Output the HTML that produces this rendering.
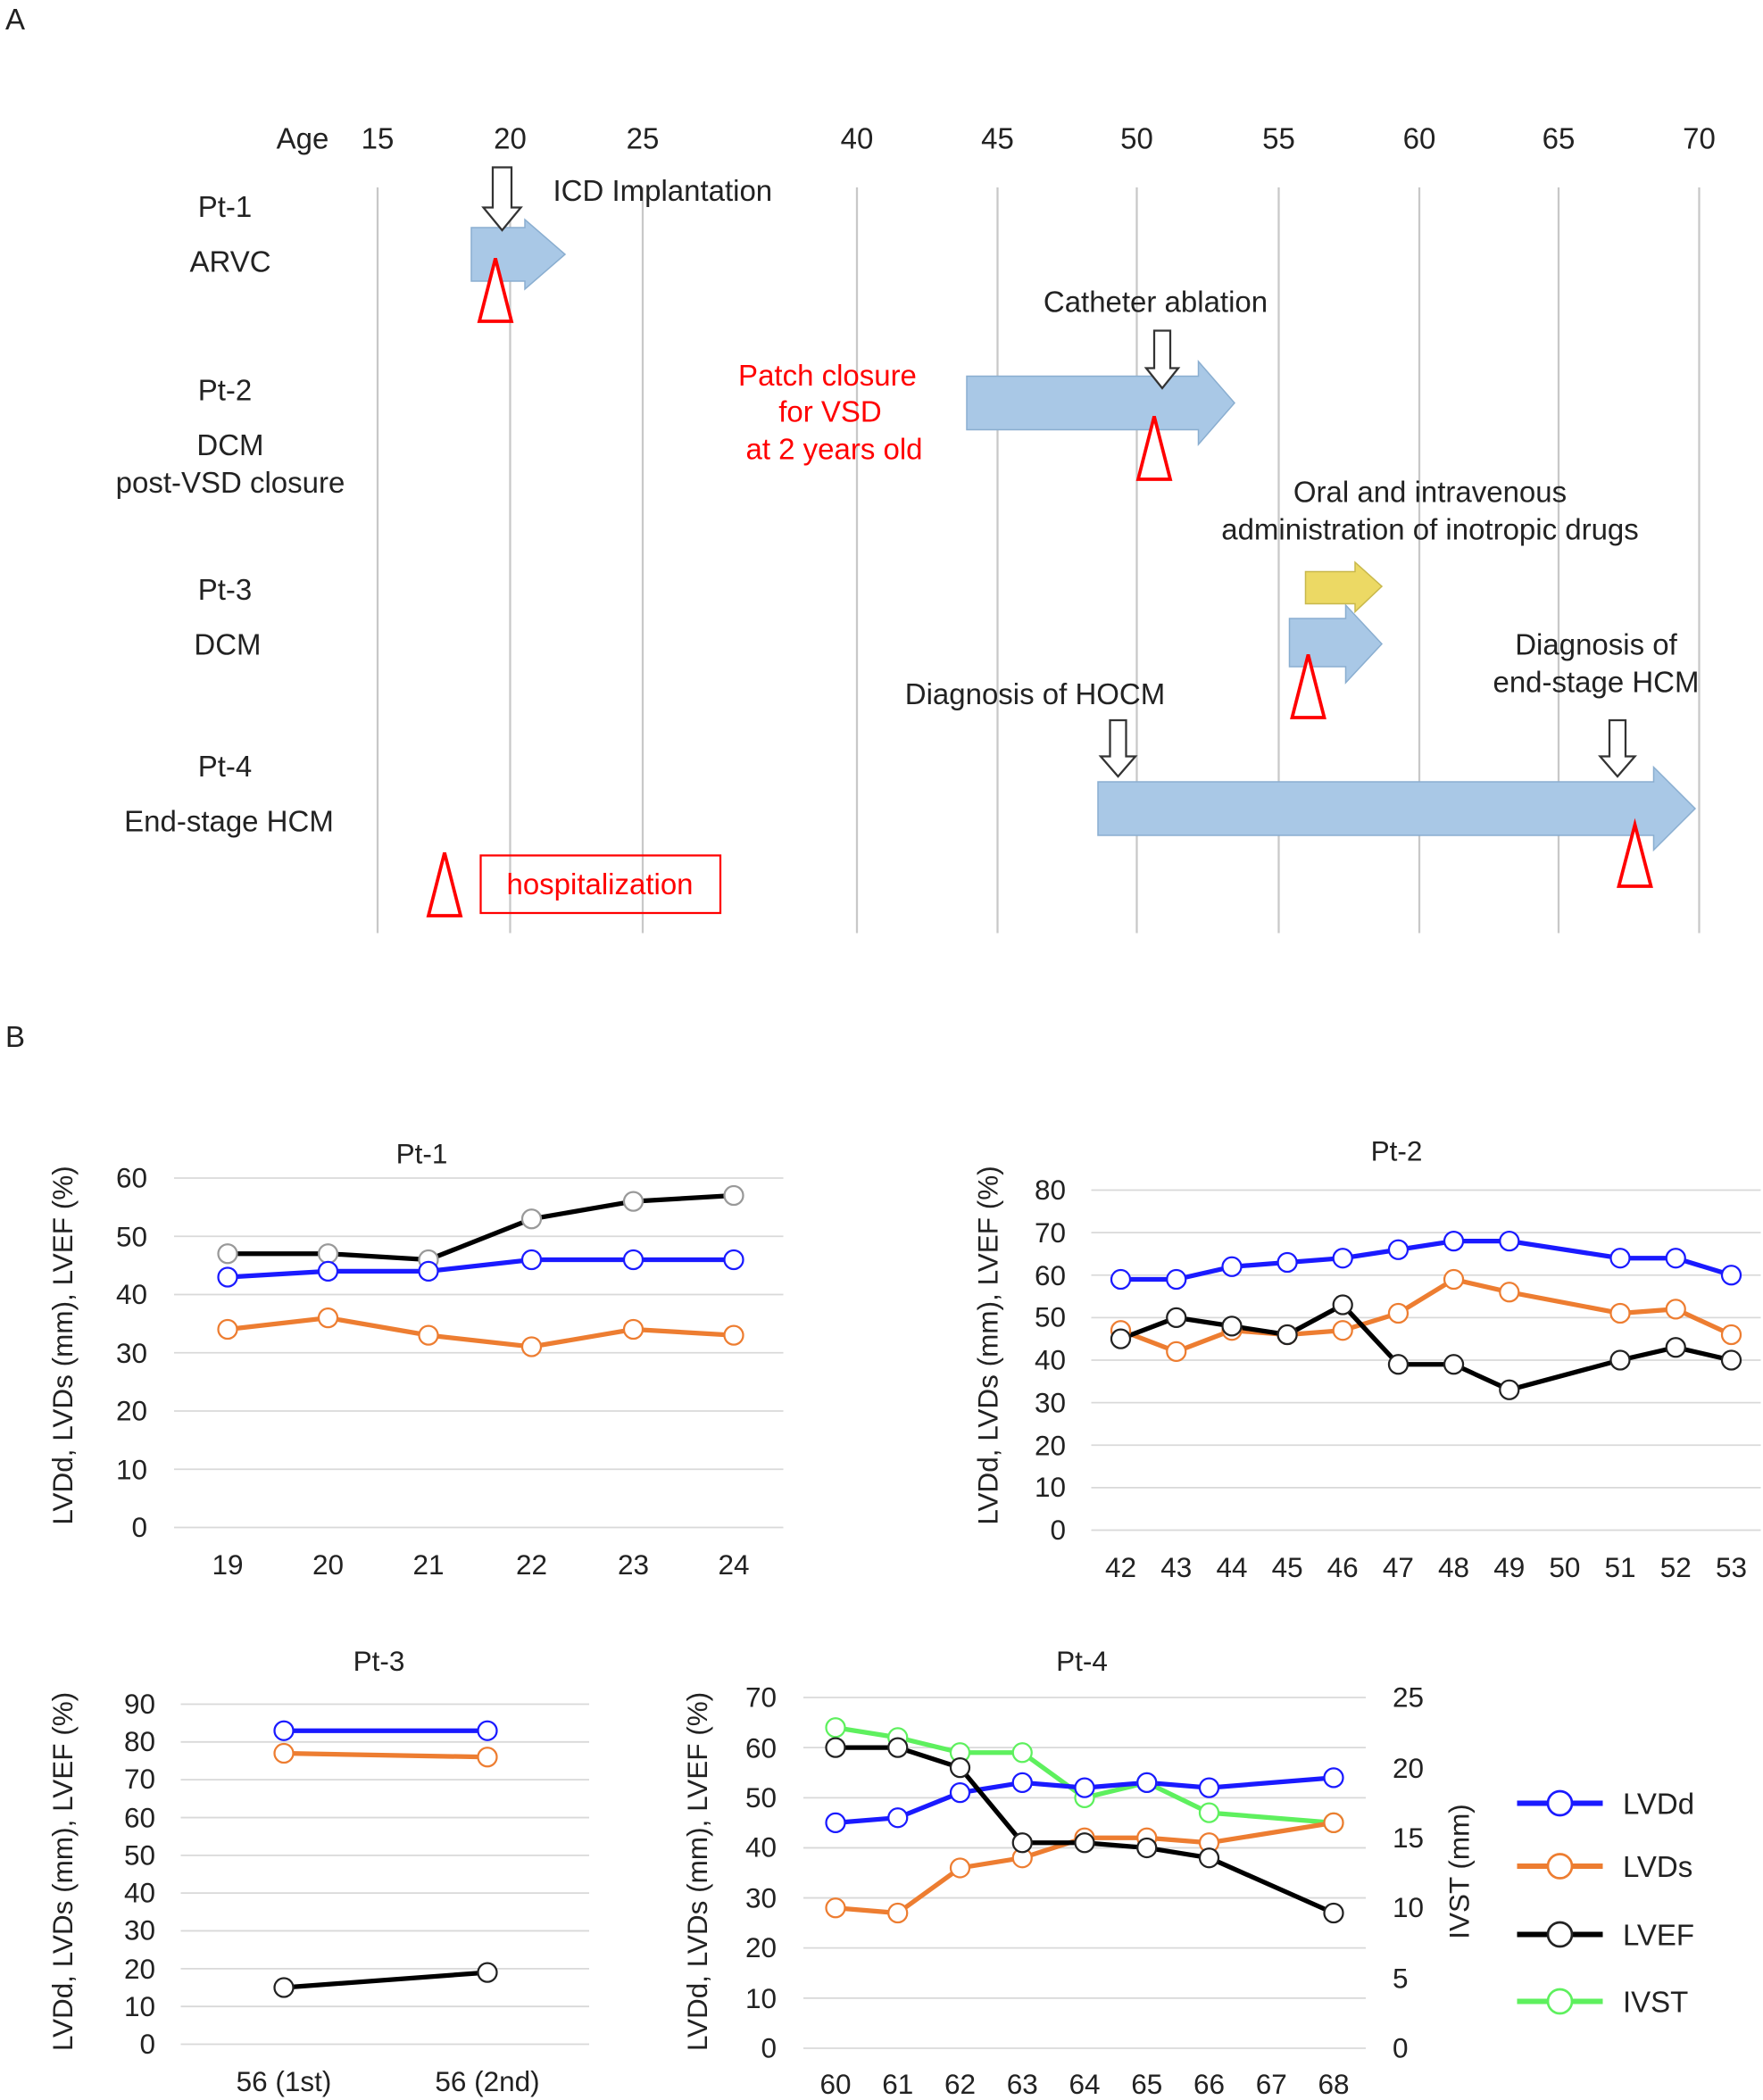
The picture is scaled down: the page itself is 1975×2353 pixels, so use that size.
<!DOCTYPE html>
<html><head><meta charset="utf-8"><style>
html,body{margin:0;padding:0;background:#fff;}
svg{display:block}
text{font-family:"Liberation Sans",Arial,sans-serif;fill:#222;}
</style></head><body>
<svg width="1975" height="2353" viewBox="0 0 1316.67 1568.67" preserveAspectRatio="none" xmlns="http://www.w3.org/2000/svg">
<rect width="1316.67" height="1568.67" fill="#fff"/>
<!-- Panel A -->
<text x="4" y="22" font-size="22">A</text>
<text x="4" y="782" font-size="22">B</text>
<g stroke="#c8c8c8" stroke-width="1.5">
<line x1="282" y1="140" x2="282" y2="697"/><line x1="381" y1="140" x2="381" y2="697"/><line x1="480" y1="140" x2="480" y2="697"/><line x1="640" y1="140" x2="640" y2="697"/><line x1="745" y1="140" x2="745" y2="697"/><line x1="849" y1="140" x2="849" y2="697"/><line x1="955" y1="140" x2="955" y2="697"/><line x1="1060" y1="140" x2="1060" y2="697"/><line x1="1164" y1="140" x2="1164" y2="697"/><line x1="1269" y1="140" x2="1269" y2="697"/>
</g>
<g font-size="22" text-anchor="middle">
<text x="226" y="111">Age</text><text x="282" y="111">15</text><text x="381" y="111">20</text><text x="480" y="111">25</text><text x="640" y="111">40</text><text x="745" y="111">45</text><text x="849" y="111">50</text><text x="955" y="111">55</text><text x="1060" y="111">60</text><text x="1164" y="111">65</text><text x="1269" y="111">70</text>
<text x="168" y="162">Pt-1</text><text x="172" y="203">ARVC</text>
<text x="168" y="299">Pt-2</text><text x="172" y="340">DCM</text><text x="172" y="368">post-VSD closure</text>
<text x="168" y="448">Pt-3</text><text x="170" y="489">DCM</text>
<text x="168" y="580">Pt-4</text><text x="171" y="621">End-stage HCM</text>
<text x="863" y="233">Catheter ablation</text>
<text x="1068" y="375">Oral and intravenous</text><text x="1068" y="403">administration of inotropic drugs</text>
<text x="773" y="526">Diagnosis of HOCM</text>
<text x="1192" y="489">Diagnosis of</text><text x="1192" y="517">end-stage HCM</text>
<g fill="#ff0000" style="fill:#ff0000"><text x="618" y="288" style="fill:#f00">Patch closure</text><text x="620" y="315" style="fill:#f00">for VSD</text><text x="623" y="343" style="fill:#f00">at 2 years old</text></g>
<text x="448" y="668" style="fill:#f00">hospitalization</text>
</g>
<text x="413" y="150" font-size="22">ICD Implantation</text>
<!-- blue arrows -->
<g fill="#a9c8e6" stroke="#8aaed0" stroke-width="1">
<polygon points="352,170 392,170 392,164 422,190 392,216 392,210 352,210"/>
<polygon points="722,281 895,281 895,270 922,301 895,332 895,321 722,321"/>
<polygon points="963,462 1005,462 1005,452 1032,481 1005,510 1005,498 963,498"/>
<polygon points="820,584 1235,584 1235,573 1266,604 1235,635 1235,624 820,624"/>
</g>
<polygon points="975,427 1012,427 1012,420 1032,438 1012,457 1012,451 975,451" fill="#ecd964" stroke="#c8b84c" stroke-width="1"/>
<!-- down arrows -->
<g fill="#fff" stroke="#333" stroke-width="1.5">
<polygon points="368,125 382,125 382,155 389,155 375,172 361,155 368,155"/>
<polygon points="862,247 874,247 874,275 880,275 868,290 856,275 862,275"/>
<polygon points="829,538 841,538 841,565 848,565 835,580 822,565 829,565"/>
<polygon points="1202,538 1214,538 1214,565 1221,565 1208,580 1195,565 1202,565"/>
</g>
<!-- red triangles -->
<g fill="#fff" stroke="#f00" stroke-width="2.5">
<polygon points="370,193 382,240 358,240"/>
<polygon points="862,311 874,358 850,358"/>
<polygon points="977,489 989,536 965,536"/>
<polygon points="1221,616 1233,662 1209,662"/>
<polygon points="332,637 344,684 320,684"/>
</g>
<rect x="359" y="639" width="179" height="43" fill="none" stroke="#f00" stroke-width="1.5"/>

<!-- Pt-1 -->
<g stroke="#d9d9d9" stroke-width="1.2">
<line x1="130" x2="585" y1="1141" y2="1141"/><line x1="130" x2="585" y1="1097.5" y2="1097.5"/><line x1="130" x2="585" y1="1054" y2="1054"/><line x1="130" x2="585" y1="1010.5" y2="1010.5"/><line x1="130" x2="585" y1="967" y2="967"/><line x1="130" x2="585" y1="923.5" y2="923.5"/><line x1="130" x2="585" y1="880" y2="880"/>
</g>
<g font-size="21" text-anchor="end">
<text x="110" y="1148">0</text><text x="110" y="1105">10</text><text x="110" y="1061">20</text><text x="110" y="1018">30</text><text x="110" y="974">40</text><text x="110" y="931">50</text><text x="110" y="887">60</text>
</g>
<g font-size="21" text-anchor="middle">
<text x="170" y="1176">19</text><text x="245" y="1176">20</text><text x="320" y="1176">21</text><text x="397" y="1176">22</text><text x="473" y="1176">23</text><text x="548" y="1176">24</text>
<text x="315" y="869">Pt-1</text>
</g>
<text transform="translate(54,1005) rotate(-90)" font-size="21" text-anchor="middle">LVDd, LVDs (mm), LVEF (%)</text>
<g fill="none" stroke-width="3.5">
<polyline stroke="#000" points="170,936.5 245,936.5 320,941 397,910.5 473,897.4 548,893"/>
<polyline stroke="#1a1aff" points="170,954 245,949.6 320,949.6 397,941 473,941 548,941"/>
<polyline stroke="#ed7d31" points="170,993 245,984.4 320,997.4 397,1006 473,993 548,997.4"/>
</g>
<g fill="#fff" stroke-width="1.5">
<g stroke="#999"><circle cx="170" cy="936.5" r="7"/><circle cx="245" cy="936.5" r="7"/><circle cx="320" cy="941" r="7"/><circle cx="397" cy="910.5" r="7"/><circle cx="473" cy="897.4" r="7"/><circle cx="548" cy="893" r="7"/></g>
<g stroke="#1a1aff"><circle cx="170" cy="954" r="7"/><circle cx="245" cy="949.6" r="7"/><circle cx="320" cy="949.6" r="7"/><circle cx="397" cy="941" r="7"/><circle cx="473" cy="941" r="7"/><circle cx="548" cy="941" r="7"/></g>
<g stroke="#ed7d31"><circle cx="170" cy="993" r="7"/><circle cx="245" cy="984.4" r="7"/><circle cx="320" cy="997.4" r="7"/><circle cx="397" cy="1006" r="7"/><circle cx="473" cy="993" r="7"/><circle cx="548" cy="997.4" r="7"/></g>
</g>

<!-- Pt-2 -->
<g stroke="#d9d9d9" stroke-width="1.2">
<line x1="815" x2="1315" y1="1143" y2="1143"/><line x1="815" x2="1315" y1="1111.25" y2="1111.25"/><line x1="815" x2="1315" y1="1079.5" y2="1079.5"/><line x1="815" x2="1315" y1="1047.75" y2="1047.75"/><line x1="815" x2="1315" y1="1016" y2="1016"/><line x1="815" x2="1315" y1="984.25" y2="984.25"/><line x1="815" x2="1315" y1="952.5" y2="952.5"/><line x1="815" x2="1315" y1="920.75" y2="920.75"/><line x1="815" x2="1315" y1="889" y2="889"/>
</g>
<g font-size="21" text-anchor="end">
<text x="796" y="1150">0</text><text x="796" y="1118">10</text><text x="796" y="1087">20</text><text x="796" y="1055">30</text><text x="796" y="1023">40</text><text x="796" y="991">50</text><text x="796" y="960">60</text><text x="796" y="928">70</text><text x="796" y="896">80</text>
</g>
<g font-size="21" text-anchor="middle">
<text x="837" y="1178">42</text><text x="878.5" y="1178">43</text><text x="920" y="1178">44</text><text x="961.4" y="1178">45</text><text x="1002.8" y="1178">46</text><text x="1044.3" y="1178">47</text><text x="1085.7" y="1178">48</text><text x="1127.2" y="1178">49</text><text x="1168.6" y="1178">50</text><text x="1210" y="1178">51</text><text x="1251.5" y="1178">52</text><text x="1293" y="1178">53</text>
<text x="1043" y="867">Pt-2</text>
</g>
<text transform="translate(745,1005) rotate(-90)" font-size="21" text-anchor="middle">LVDd, LVDs (mm), LVEF (%)</text>
<g fill="none" stroke-width="3.5">
<polyline stroke="#1a1aff" points="837,955.7 878.5,955.7 920,946.2 961.4,943 1002.8,939.8 1044.3,933.5 1085.7,927.1 1127.2,927.1 1210,939.8 1251.5,939.8 1293,952.5"/>
<polyline stroke="#ed7d31" points="837,993.8 878.5,1009.6 920,993.8 961.4,997 1002.8,993.8 1044.3,981 1085.7,955.7 1127.2,965.2 1210,981 1251.5,977.9 1293,997"/>
<polyline stroke="#000" points="837,1000.1 878.5,984.25 920,990.6 961.4,997 1002.8,974.7 1044.3,1019.2 1085.7,1019.2 1127.2,1038.2 1210,1016 1251.5,1006.5 1293,1016"/>
</g>
<g fill="#fff" stroke-width="1.5">
<g stroke="#1a1aff"><circle cx="837" cy="955.7" r="7"/><circle cx="878.5" cy="955.7" r="7"/><circle cx="920" cy="946.2" r="7"/><circle cx="961.4" cy="943" r="7"/><circle cx="1002.8" cy="939.8" r="7"/><circle cx="1044.3" cy="933.5" r="7"/><circle cx="1085.7" cy="927.1" r="7"/><circle cx="1127.2" cy="927.1" r="7"/><circle cx="1210" cy="939.8" r="7"/><circle cx="1251.5" cy="939.8" r="7"/><circle cx="1293" cy="952.5" r="7"/></g>
<g stroke="#ed7d31"><circle cx="837" cy="993.8" r="7"/><circle cx="878.5" cy="1009.6" r="7"/><circle cx="920" cy="993.8" r="7"/><circle cx="961.4" cy="997" r="7"/><circle cx="1002.8" cy="993.8" r="7"/><circle cx="1044.3" cy="981" r="7"/><circle cx="1085.7" cy="955.7" r="7"/><circle cx="1127.2" cy="965.2" r="7"/><circle cx="1210" cy="981" r="7"/><circle cx="1251.5" cy="977.9" r="7"/><circle cx="1293" cy="997" r="7"/></g>
<g stroke="#222"><circle cx="837" cy="1000.1" r="7"/><circle cx="878.5" cy="984.25" r="7"/><circle cx="920" cy="990.6" r="7"/><circle cx="961.4" cy="997" r="7"/><circle cx="1002.8" cy="974.7" r="7"/><circle cx="1044.3" cy="1019.2" r="7"/><circle cx="1085.7" cy="1019.2" r="7"/><circle cx="1127.2" cy="1038.2" r="7"/><circle cx="1210" cy="1016" r="7"/><circle cx="1251.5" cy="1006.5" r="7"/><circle cx="1293" cy="1016" r="7"/></g>
</g>

<!-- Pt-3 -->
<g stroke="#d9d9d9" stroke-width="1.2">
<line x1="135" x2="440" y1="1527" y2="1527"/><line x1="135" x2="440" y1="1498.8" y2="1498.8"/><line x1="135" x2="440" y1="1470.6" y2="1470.6"/><line x1="135" x2="440" y1="1442.3" y2="1442.3"/><line x1="135" x2="440" y1="1414.1" y2="1414.1"/><line x1="135" x2="440" y1="1385.9" y2="1385.9"/><line x1="135" x2="440" y1="1357.7" y2="1357.7"/><line x1="135" x2="440" y1="1329.4" y2="1329.4"/><line x1="135" x2="440" y1="1301.2" y2="1301.2"/><line x1="135" x2="440" y1="1273" y2="1273"/>
</g>
<g font-size="21" text-anchor="end">
<text x="116" y="1534">0</text><text x="116" y="1506">10</text><text x="116" y="1478">20</text><text x="116" y="1449">30</text><text x="116" y="1421">40</text><text x="116" y="1393">50</text><text x="116" y="1365">60</text><text x="116" y="1336">70</text><text x="116" y="1308">80</text><text x="116" y="1280">90</text>
</g>
<g font-size="21" text-anchor="middle">
<text x="212" y="1562">56 (1st)</text><text x="364" y="1562">56 (2nd)</text><text x="283" y="1248">Pt-3</text>
</g>
<text transform="translate(54,1398) rotate(-90)" font-size="21" text-anchor="middle">LVDd, LVDs (mm), LVEF (%)</text>
<g fill="none" stroke-width="3.5">
<line stroke="#1a1aff" x1="212" y1="1292.8" x2="364" y2="1292.8"/>
<line stroke="#ed7d31" x1="212" y1="1309.7" x2="364" y2="1312.5"/>
<line stroke="#000" x1="212" y1="1484.7" x2="364" y2="1473.4"/>
</g>
<g fill="#fff" stroke-width="1.5">
<circle stroke="#1a1aff" cx="212" cy="1292.8" r="7"/><circle stroke="#1a1aff" cx="364" cy="1292.8" r="7"/>
<circle stroke="#ed7d31" cx="212" cy="1309.7" r="7"/><circle stroke="#ed7d31" cx="364" cy="1312.5" r="7"/>
<circle stroke="#222" cx="212" cy="1484.7" r="7"/><circle stroke="#222" cx="364" cy="1473.4" r="7"/>
</g>

<!-- Pt-4 -->
<g stroke="#d9d9d9" stroke-width="1.2">
<line x1="600" x2="1020" y1="1530" y2="1530"/><line x1="600" x2="1020" y1="1492.6" y2="1492.6"/><line x1="600" x2="1020" y1="1455.1" y2="1455.1"/><line x1="600" x2="1020" y1="1417.7" y2="1417.7"/><line x1="600" x2="1020" y1="1380.3" y2="1380.3"/><line x1="600" x2="1020" y1="1342.9" y2="1342.9"/><line x1="600" x2="1020" y1="1305.4" y2="1305.4"/><line x1="600" x2="1020" y1="1268" y2="1268"/>
</g>
<g font-size="21" text-anchor="end">
<text x="580" y="1537">0</text><text x="580" y="1500">10</text><text x="580" y="1462">20</text><text x="580" y="1425">30</text><text x="580" y="1387">40</text><text x="580" y="1350">50</text><text x="580" y="1313">60</text><text x="580" y="1275">70</text>
</g>
<g font-size="21" text-anchor="start">
<text x="1040" y="1537">0</text><text x="1040" y="1485">5</text><text x="1040" y="1432">10</text><text x="1040" y="1380">15</text><text x="1040" y="1328">20</text><text x="1040" y="1275">25</text>
</g>
<g font-size="21" text-anchor="middle">
<text x="624" y="1564">60</text><text x="670.5" y="1564">61</text><text x="717" y="1564">62</text><text x="763.5" y="1564">63</text><text x="810" y="1564">64</text><text x="856.5" y="1564">65</text><text x="903" y="1564">66</text><text x="949.5" y="1564">67</text><text x="996" y="1564">68</text>
<text x="808" y="1248">Pt-4</text>
</g>
<text transform="translate(528,1398) rotate(-90)" font-size="21" text-anchor="middle">LVDd, LVDs (mm), LVEF (%)</text>
<text transform="translate(1097,1398) rotate(-90)" font-size="21" text-anchor="middle">IVST (mm)</text>
<g fill="none" stroke-width="3.5">
<polyline stroke="#5ef05e" points="624,1290.5 670.5,1297.9 717,1309.2 763.5,1309.2 810,1342.9 856.5,1331.6 903,1354.1 996,1361.6"/>
<polyline stroke="#1a1aff" points="624,1361.6 670.5,1357.8 717,1339.1 763.5,1331.6 810,1335.4 856.5,1331.6 903,1335.4 996,1327.9"/>
<polyline stroke="#ed7d31" points="624,1425.2 670.5,1429 717,1395.3 763.5,1387.8 810,1372.8 856.5,1372.8 903,1376.5 996,1361.6"/>
<polyline stroke="#000" points="624,1305.4 670.5,1305.4 717,1320.4 763.5,1376.5 810,1376.5 856.5,1380.3 903,1387.8 996,1429"/>
</g>
<g fill="#fff" stroke-width="1.5">
<g stroke="#5ef05e"><circle cx="624" cy="1290.5" r="7"/><circle cx="670.5" cy="1297.9" r="7"/><circle cx="717" cy="1309.2" r="7"/><circle cx="763.5" cy="1309.2" r="7"/><circle cx="810" cy="1342.9" r="7"/><circle cx="856.5" cy="1331.6" r="7"/><circle cx="903" cy="1354.1" r="7"/><circle cx="996" cy="1361.6" r="7"/></g>
<g stroke="#1a1aff"><circle cx="624" cy="1361.6" r="7"/><circle cx="670.5" cy="1357.8" r="7"/><circle cx="717" cy="1339.1" r="7"/><circle cx="763.5" cy="1331.6" r="7"/><circle cx="810" cy="1335.4" r="7"/><circle cx="856.5" cy="1331.6" r="7"/><circle cx="903" cy="1335.4" r="7"/><circle cx="996" cy="1327.9" r="7"/></g>
<g stroke="#ed7d31"><circle cx="624" cy="1425.2" r="7"/><circle cx="670.5" cy="1429" r="7"/><circle cx="717" cy="1395.3" r="7"/><circle cx="763.5" cy="1387.8" r="7"/><circle cx="810" cy="1372.8" r="7"/><circle cx="856.5" cy="1372.8" r="7"/><circle cx="903" cy="1376.5" r="7"/><circle cx="996" cy="1361.6" r="7"/></g>
<g stroke="#222"><circle cx="624" cy="1305.4" r="7"/><circle cx="670.5" cy="1305.4" r="7"/><circle cx="717" cy="1320.4" r="7"/><circle cx="763.5" cy="1376.5" r="7"/><circle cx="810" cy="1376.5" r="7"/><circle cx="856.5" cy="1380.3" r="7"/><circle cx="903" cy="1387.8" r="7"/><circle cx="996" cy="1429" r="7"/></g>
</g>

<!-- Legend -->
<g stroke-width="4">
<line x1="1133" x2="1197" y1="1347" y2="1347" stroke="#1a1aff"/>
<line x1="1133" x2="1197" y1="1394" y2="1394" stroke="#ed7d31"/>
<line x1="1133" x2="1197" y1="1445" y2="1445" stroke="#000"/>
<line x1="1133" x2="1197" y1="1495" y2="1495" stroke="#5ef05e"/>
</g>
<g fill="#fff" stroke-width="1.8">
<circle cx="1165" cy="1347" r="9" stroke="#1a1aff"/><circle cx="1165" cy="1394" r="9" stroke="#ed7d31"/><circle cx="1165" cy="1445" r="9" stroke="#222"/><circle cx="1165" cy="1495" r="9" stroke="#5ef05e"/>
</g>
<g font-size="22">
<text x="1212" y="1355">LVDd</text><text x="1212" y="1402">LVDs</text><text x="1212" y="1453">LVEF</text><text x="1212" y="1503">IVST</text>
</g>
</svg>
</body></html>
